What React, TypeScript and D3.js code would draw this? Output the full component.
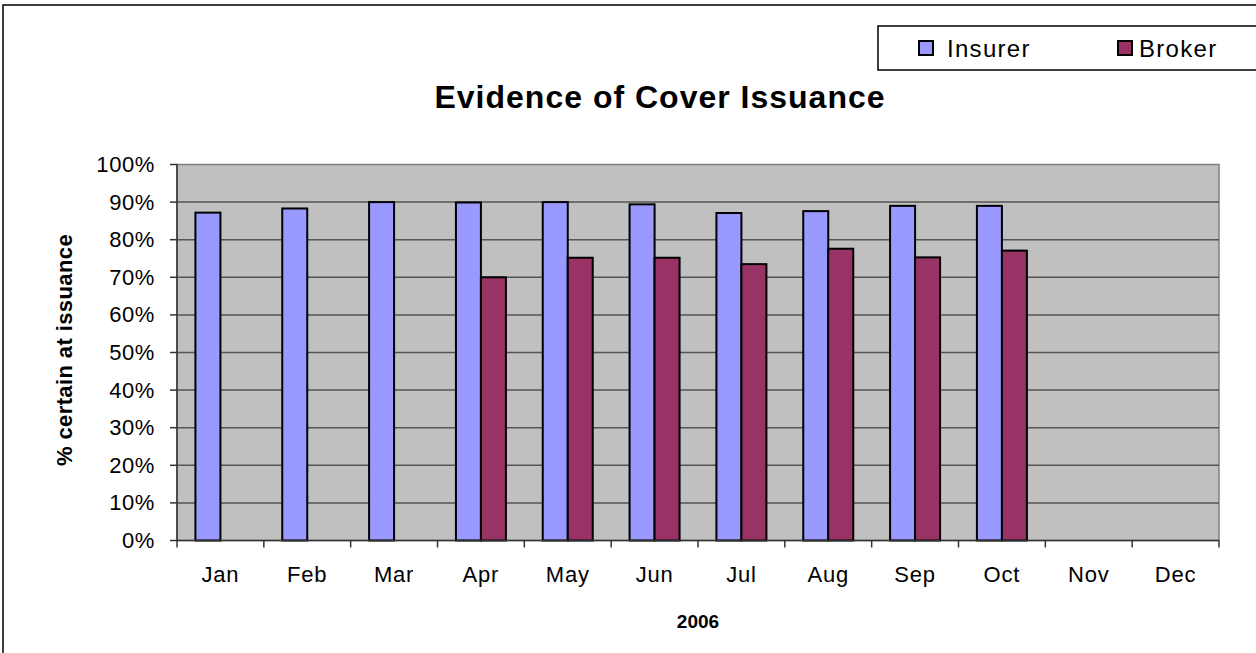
import React, { useEffect } from 'react';
import * as d3 from 'd3';

const months = ['Jan', 'Feb', 'Mar', 'Apr', 'May', 'Jun', 'Jul', 'Aug', 'Sep', 'Oct', 'Nov', 'Dec'];
const insurer: (number | null)[] = [87.2, 88.3, 90, 89.9, 90, 89.4, 87.1, 87.6, 89, 89, null, null];
const broker: (number | null)[] = [null, null, null, 70, 75.2, 75.2, 73.5, 77.6, 75.3, 77.1, null, null];
const seriesNames = ['Insurer', 'Broker'];
const yTicks = [0, 10, 20, 30, 40, 50, 60, 70, 80, 90, 100];

const colors: Record<string, string> = { Insurer: '#9999FF', Broker: '#993366' };
const plot = { left: 177, right: 1219, top: 164.5, bottom: 540.5 };
const font = '"Liberation Sans", Arial, sans-serif';

const App = () => {
  useEffect(() => {
    document.body.style.margin = '0';
  }, []);

  const x = d3.scaleBand<string>().domain(months).range([plot.left, plot.right]).padding(0);
  const xs = d3
    .scaleBand<string>()
    .domain(seriesNames)
    .range([0, x.bandwidth()])
    .paddingInner(0)
    .paddingOuter(0.737);
  const y = d3.scaleLinear().domain([0, 100]).range([plot.bottom, plot.top]);

  const series = [
    { name: 'Insurer', values: insurer },
    { name: 'Broker', values: broker },
  ];

  const boundaries = months.map((m) => x(m) as number).concat([plot.right]);
  const legendPos = [
    { sw: 919, tx: 947 },
    { sw: 1118, tx: 1139 },
  ];

  return (
    <svg width={1256} height={653} style={{ display: 'block', fontFamily: font }}>
      <rect x={0} y={0} width={1256} height={653} fill="#fff" />
      {/* outer frame */}
      <rect x={3} y={5} width={1270} height={670} fill="none" stroke="#000" strokeWidth={1.5} />

      {/* plot area */}
      <rect
        x={plot.left}
        y={plot.top}
        width={plot.right - plot.left}
        height={plot.bottom - plot.top}
        fill="#C0C0C0"
        stroke="#808080"
        strokeWidth={1.5}
      />
      {yTicks
        .filter((t) => t > 0 && t < 100)
        .map((t) => (
          <line key={t} x1={plot.left} x2={plot.right} y1={y(t)} y2={y(t)} stroke="#555" strokeWidth={1.5} />
        ))}

      {/* bars */}
      {series.map((s) =>
        s.values.map((v, i) =>
          v == null ? null : (
            <rect
              key={s.name + i}
              x={(x(months[i]) as number) + (xs(s.name) as number)}
              y={y(v)}
              width={xs.bandwidth()}
              height={y(0) - y(v)}
              fill={colors[s.name]}
              stroke="#000"
              strokeWidth={2}
            />
          )
        )
      )}

      {/* axes */}
      <line x1={plot.left} x2={plot.left} y1={plot.top} y2={plot.bottom} stroke="#333" strokeWidth={1.5} />
      <line x1={plot.left} x2={plot.right} y1={plot.bottom} y2={plot.bottom} stroke="#333" strokeWidth={1.5} />
      {yTicks.map((t) => (
        <g key={t}>
          <line x1={plot.left - 7} x2={plot.left} y1={y(t)} y2={y(t)} stroke="#333" strokeWidth={1.5} />
          <text x={155} y={y(t) + 7.5} textAnchor="end" fontSize={22} letterSpacing={0.6} fill="#000">
            {t}%
          </text>
        </g>
      ))}
      {boundaries.map((b, i) => (
        <line key={i} x1={b} x2={b} y1={plot.bottom} y2={plot.bottom + 7} stroke="#333" strokeWidth={1.5} />
      ))}
      {months.map((m) => (
        <text
          key={m}
          x={(x(m) as number) + x.bandwidth() / 2}
          y={582}
          textAnchor="middle"
          fontSize={22}
          letterSpacing={0.8}
          fill="#000"
        >
          {m}
        </text>
      ))}

      {/* titles */}
      <text x={660} y={108} textAnchor="middle" fontSize={32} fontWeight="bold" letterSpacing={1} fill="#000">
        Evidence of Cover Issuance
      </text>
      <text x={698} y={628} textAnchor="middle" fontSize={19} fontWeight="bold" fill="#000">
        2006
      </text>
      <text
        transform={`translate(72, 350) rotate(-90)`}
        textAnchor="middle"
        fontSize={22}
        fontWeight="bold"
        letterSpacing={0.4}
        fill="#000"
      >
        % certain at issuance
      </text>

      {/* legend */}
      <rect x={878} y={26} width={400} height={44} fill="#fff" stroke="#000" strokeWidth={1.5} />
      {seriesNames.map((n, i) => (
        <g key={n}>
          <rect x={legendPos[i].sw} y={41} width={14} height={14} fill={colors[n]} stroke="#000" strokeWidth={2} />
          <text x={legendPos[i].tx} y={57} fontSize={24} letterSpacing={1.3} fill="#000">
            {n}
          </text>
        </g>
      ))}
    </svg>
  );
};

export default App;
